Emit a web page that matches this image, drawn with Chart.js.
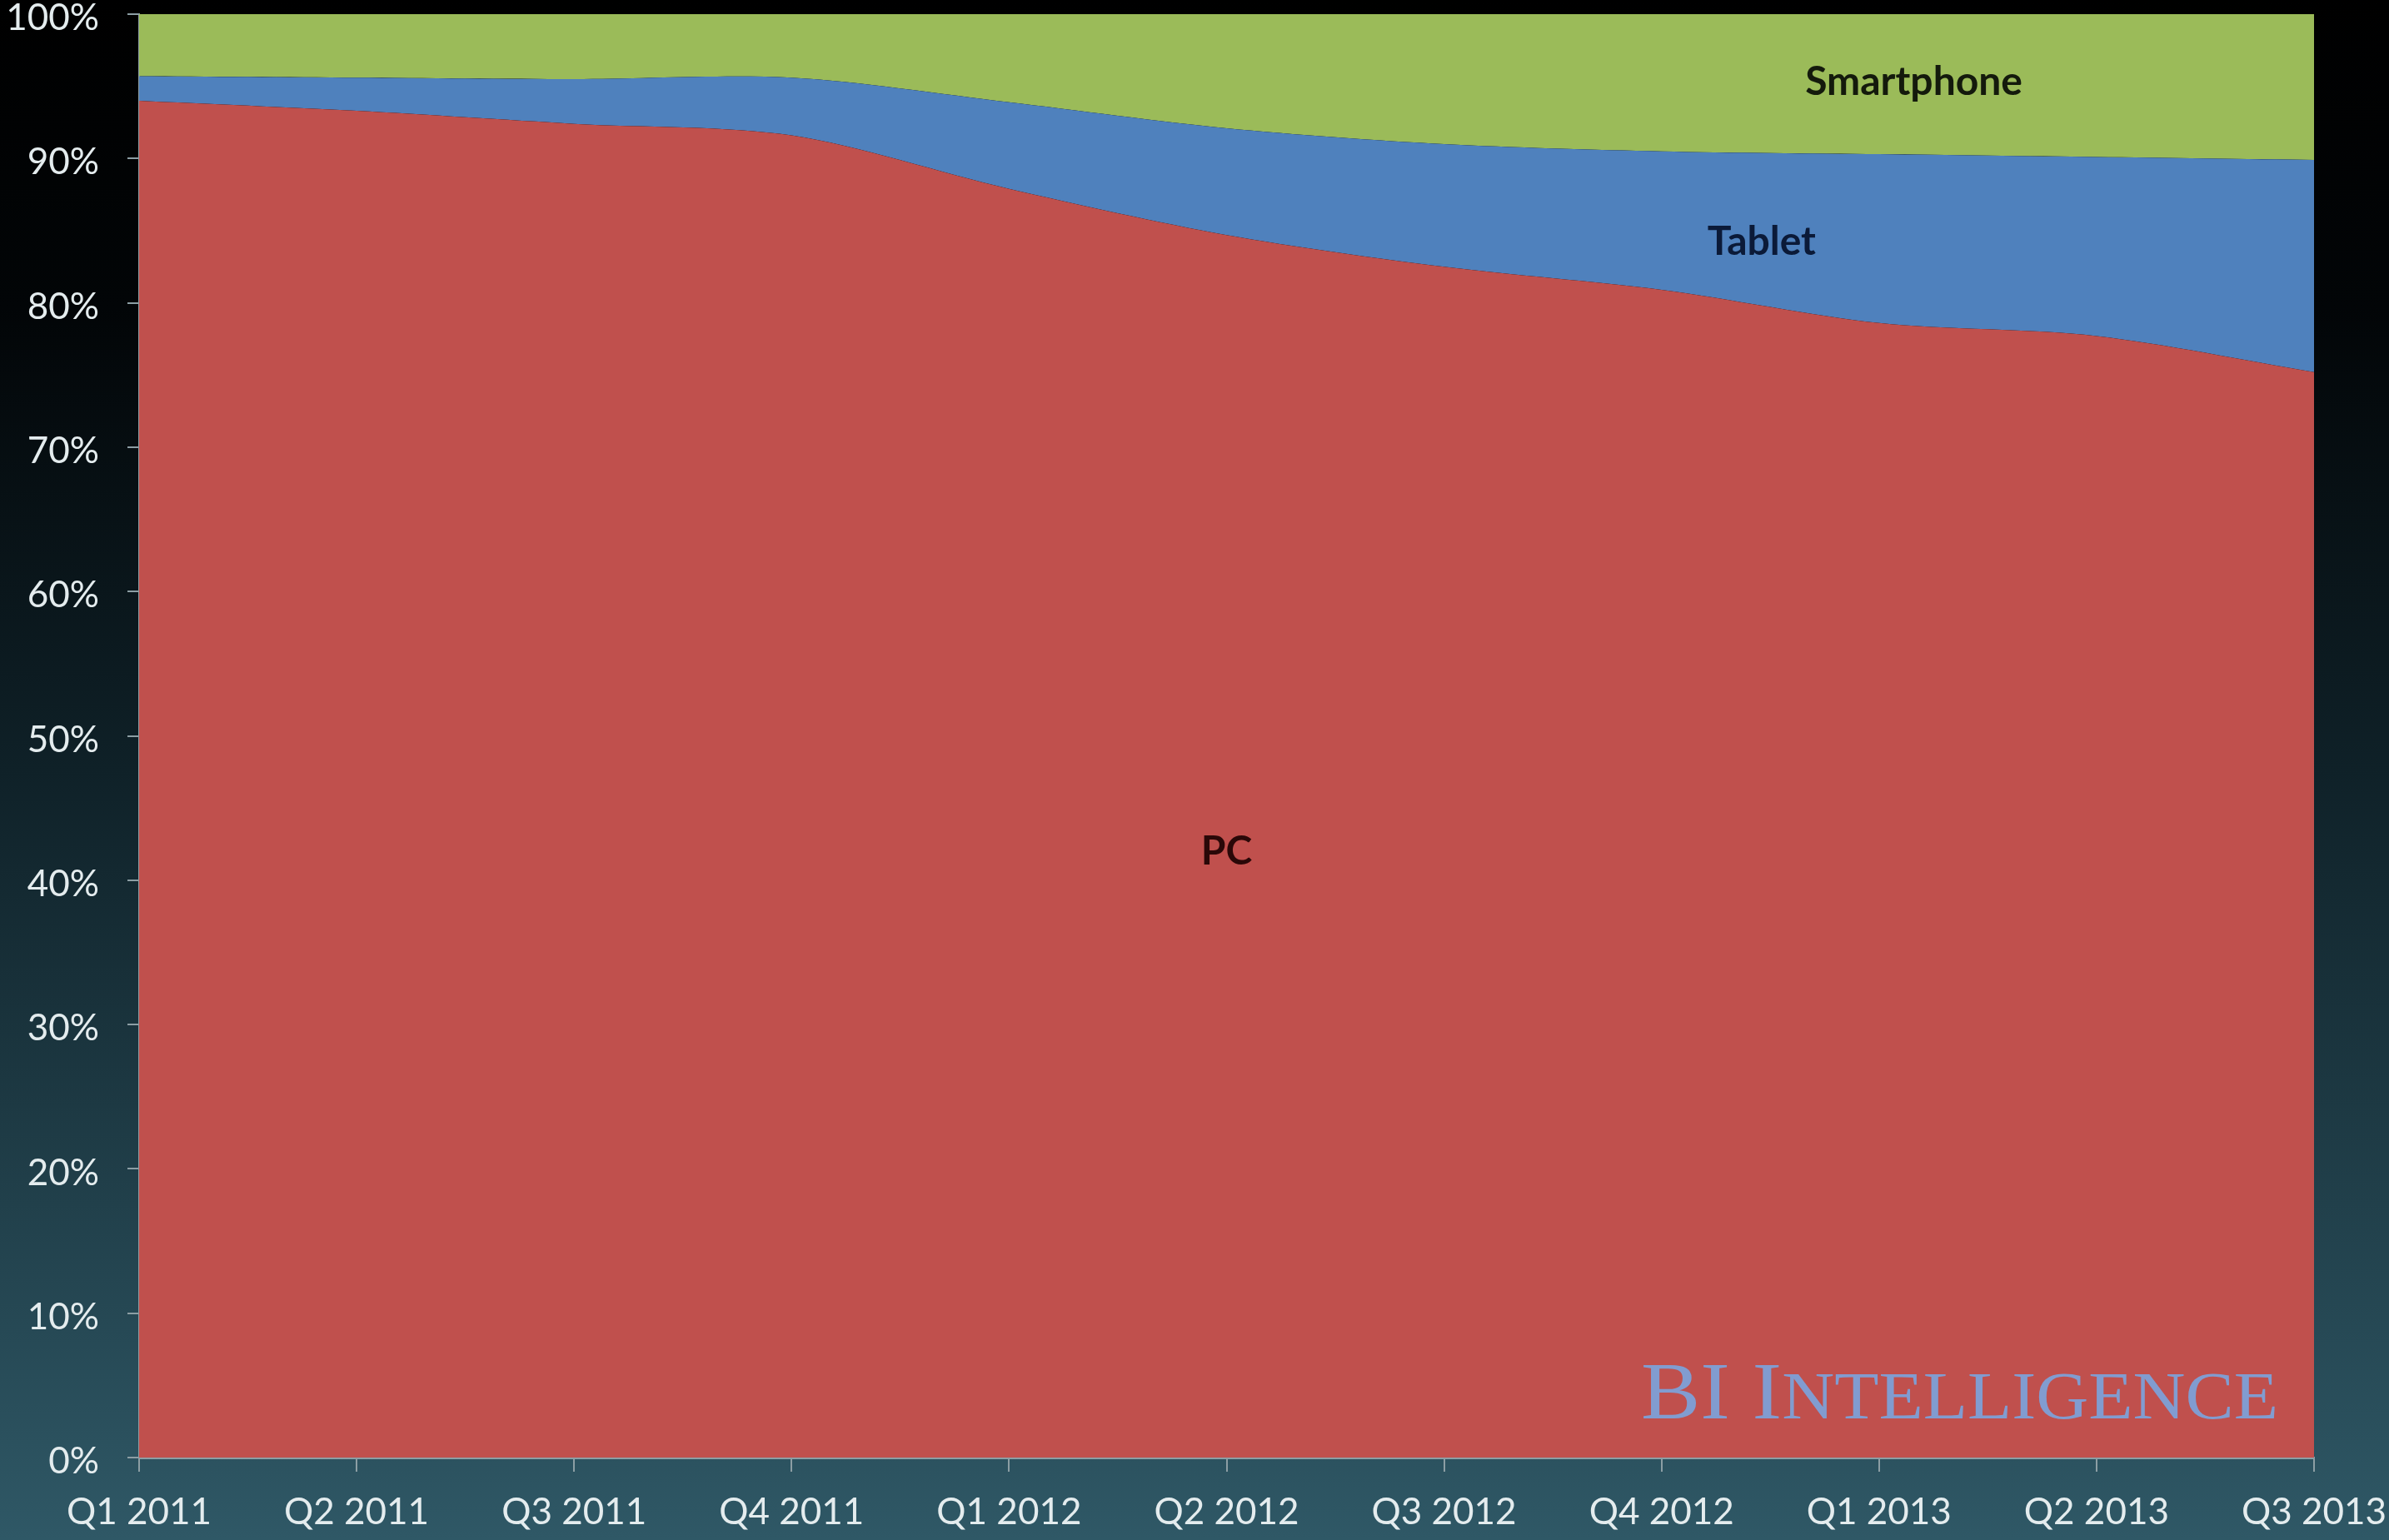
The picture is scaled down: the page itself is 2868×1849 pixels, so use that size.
<!DOCTYPE html>
<html>
<head>
<meta charset="utf-8">
<script src="https://cdn.jsdelivr.net/npm/chart.js@4.4.0/dist/chart.umd.min.js"></script>
<style>
    html, body { margin: 0; padding: 0; }
    body {
        width: 2868px; height: 1849px; overflow: hidden;
        background: linear-gradient(to bottom, #000000 0%, #020507 20%, #0f2128 50%, #2f5866 100%);
    }
    canvas { display: block; }
</style>
</head>
<body>
<canvas id="shareChart" width="2868" height="1849"></canvas>
<script>
// Data (share of devices, %)
const quarters = ['Q1 2011', 'Q2 2011', 'Q3 2011', 'Q4 2011', 'Q1 2012', 'Q2 2012',
                  'Q3 2012', 'Q4 2012', 'Q1 2013', 'Q2 2013', 'Q3 2013'];
const pcShare         = [94.0, 93.3, 92.4, 91.6, 87.9, 84.7, 82.5, 80.9, 78.6, 77.7, 75.2];
const tabletShare     = [ 1.7,  2.3,  3.1,  4.0,  6.0,  7.4,  8.5,  9.6, 11.7, 12.4, 14.7];
const smartphoneShare = [ 4.3,  4.4,  4.5,  4.4,  6.1,  7.9,  9.0,  9.5,  9.7,  9.9, 10.1];
const yTicks = [0, 10, 20, 30, 40, 50, 60, 70, 80, 90, 100];
const seriesNames = ['PC', 'Tablet', 'Smartphone'];

const labelColor = '#e4ecee';
const axisColor = '#8c9ea4';

// Draws the in-area series names and the watermark
const annotations = {
    id: 'annotations',
    afterDatasetsDraw(chart) {
        const ctx = chart.ctx;
        const x = chart.scales.x, y = chart.scales.y;
        const area = chart.chartArea;

        const spots = [
            { x: 5.0,  y: 42.0, color: '#2a0808' },
            { x: 7.46, y: 84.2, color: '#0b1a38' },
            { x: 8.16, y: 95.3, color: '#141a0c' }
        ];
        ctx.save();
        ctx.font = 'bold 48px Lato';
        ctx.textAlign = 'center';
        ctx.textBaseline = 'middle';
        seriesNames.forEach((name, i) => {
            ctx.fillStyle = spots[i].color;
            ctx.fillText(name, x.getPixelForValue(spots[i].x), y.getPixelForValue(spots[i].y));
        });
        ctx.restore();

        // "BI INTELLIGENCE" in small caps
        const parts = [['BI', 98], [' ', 98], ['I', 98], ['NTELLIGENCE', 80]];
        ctx.save();
        let total = 0;
        parts.forEach(p => {
            ctx.font = p[1] + 'px "Liberation Serif"';
            total += ctx.measureText(p[0]).width;
        });
        const targetW = 765;
        const sx = targetW / total;
        ctx.translate(area.right - 43 - targetW, area.bottom - 47);
        ctx.scale(sx, 1);
        ctx.fillStyle = 'rgba(125,160,215,0.95)';
        ctx.textBaseline = 'alphabetic';
        let cx = 0;
        parts.forEach(p => {
            ctx.font = p[1] + 'px "Liberation Serif"';
            ctx.fillText(p[0], cx, 0);
            cx += ctx.measureText(p[0]).width;
        });
        ctx.restore();
    }
};

const ctx = document.getElementById('shareChart').getContext('2d');
const shareChart = new Chart(ctx, {
    type: 'line',
    data: {
        labels: quarters,
        datasets: [
            { label: seriesNames[0], data: pcShare, backgroundColor: '#c0504d', fill: 'origin' },
            { label: seriesNames[1], data: tabletShare, backgroundColor: '#4f81bd', fill: '-1' },
            { label: seriesNames[2], data: smartphoneShare, backgroundColor: '#9bbb59', fill: '-1' }
        ].map(ds => Object.assign(ds, {
            borderWidth: 0,
            borderColor: 'rgba(0,0,0,0)',
            pointRadius: 0,
            tension: 0.3
        }))
    },
    options: {
        responsive: false,
        animation: false,
        devicePixelRatio: 1,
        layout: { padding: { top: 17, right: 90, left: 0, bottom: 0 } },
        plugins: {
            legend: { display: false },
            tooltip: { enabled: false }
        },
        scales: {
            x: {
                offset: false,
                grid: { display: true, drawOnChartArea: false, tickLength: 17, color: axisColor, lineWidth: 2 },
                border: { display: true, color: axisColor, width: 3 },
                ticks: {
                    color: labelColor,
                    font: { family: 'Lato', size: 44 },
                    padding: 22,
                    maxRotation: 0,
                    autoSkip: false
                },
                afterFit(scale) {
                    scale.height = 1849 - 1750;
                    scale.paddingLeft = 0;
                    scale.paddingRight = 0;
                }
            },
            y: {
                stacked: true,
                min: 0,
                max: 100,
                afterBuildTicks(scale) { scale.ticks = yTicks.map(v => ({ value: v })); },
                grid: { display: true, drawOnChartArea: false, tickLength: 14, color: axisColor, lineWidth: 2 },
                border: { display: true, color: axisColor, width: 2 },
                ticks: {
                    color: labelColor,
                    font: { family: 'Lato', size: 44 },
                    padding: 34,
                    labelOffset: 5,
                    callback: v => v + '%'
                },
                afterFit(scale) {
                    scale.width = 167;
                    scale.paddingTop = 0;
                    scale.paddingBottom = 0;
                }
            }
        }
    },
    plugins: [annotations]
});
</script>
</body>
</html>
